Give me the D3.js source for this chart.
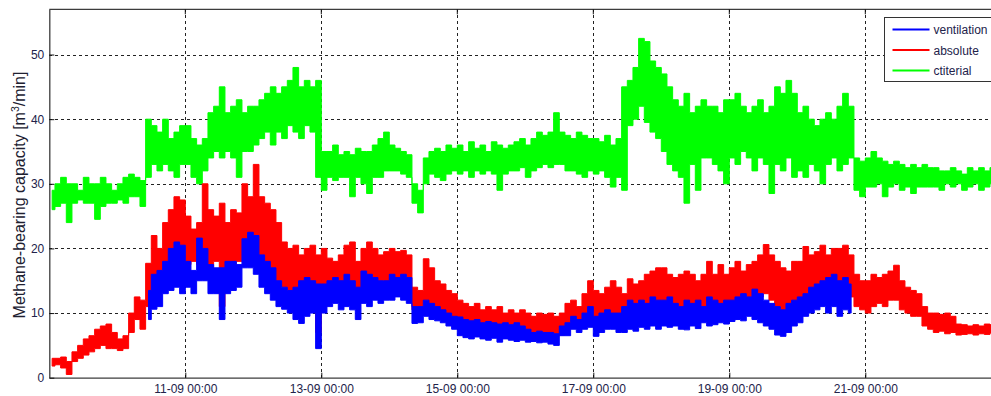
<!DOCTYPE html>
<html>
<head>
<meta charset="utf-8">
<script src="https://cdn.jsdelivr.net/npm/d3@7"></script>
<style>
  html, body { margin: 0; padding: 0; background: #fff; }
  svg { display: block; font-family: "Liberation Sans", Arial, sans-serif; }
</style>
</head>
<body>
<div id="chart"></div>
<script>
// 2-hour bins starting 09-09 00:00, each bin = upper and lower edge of the noisy trace
const binHours = 2;
const seriesNames = ["ventilation", "absolute", "ctiterial"];
const seriesColors = ["#0000ff", "#ff0000", "#00ff00"];
const xTickDays = ["2013-09-11", "2013-09-13", "2013-09-15", "2013-09-17", "2013-09-19", "2013-09-21"];
const yTicks = [0, 10, 20, 30, 40, 50];

// ctiterial
const greenHi = [
  29,30,31,30,30,29,31,30,30,31,30,29,
  30,31,31.5,31,30.5,40,39,38,40,37,38,39,
  39,37,36,37,41,42,45,41,42,43,41,42,
  42,43,44,45,44,45,46,48,45,46,45,46,
  35,35,36,34.5,35,34.5,35.5,35,35,36,37,38,
  36,35.5,35,34.5,30,29,34,35,35.5,35,36,35.5,
  36,35,36.5,35.5,36,35,36.5,36,35.5,36,36.5,37,
  36,37,38,37.5,38,41,38,37.5,37,38,37.5,37,
  37,36.5,37.5,36,37,45,46,48,52.5,52,49,48,
  47,45,43,42,44,41,42,43,42,42,41,43,
  43,44,42,41,42,43,41,42,45,44,46,44,
  41,42,40,39,40,41,40,42,44,42,34,33.5,
  34,35,34,33.5,33,33.5,33,32.5,33,32.5,33,32.5,
  32.5,32,32,32.5,32,31.5,32.5,32,32.5,32,32.5
];
const greenLo = [
  26,26.5,27,24,27,27.5,27,27,24.5,26.5,27,27,
  27.5,27,28,28,26.5,31,33,32,33,32,31,33,
  33,31,30,32,34,35,34,35,34,31,35,35,
  36,37,38,36,38,37,39,38,37,39,38,31,
  29,31,30.5,31,31,28,31,30,28.5,31,31,32,
  32,32,31.5,31,27,25.5,30,31.5,31,30.5,31.5,32,
  31.5,32,31,32,31.5,32,31.5,29,31.5,32,32,32.5,
  31,32,32.5,33,32.5,33,33,32,32,31.5,31,32,
  31.5,32,31,29.5,31,29,39,40,42,39.5,38,37,
  35,33,32,31,27,33,29,34,34,33,32,30,
  34,33,35,34,32,34,33,28.5,33,32,34,31,
  32,31,33,32,30,33,34,32,33,34,29,28,
  29.5,29.5,30,28,29.5,30,29,29.5,28.5,29.5,29.5,29.5,
  29.5,29,30,29.5,30,29,29.5,30,29,29.5,30
];

// absolute
const redHi = [
  3,3,3.2,2.5,4,5,6,6.5,7.5,8,8.3,7,
  6,6.5,10,12.5,12,17.7,22,20,24,26,28,27.5,
  25,23,24,30,26,25,27,24,26,25.5,30,28,
  33,28,27,26,24,21,20,20.5,19,20,20.5,19,
  20,18.5,18,19,20.5,21,18,20,21,20,19,19.5,
  20,19.5,19.7,19,14,13.5,18.4,17,15,14.5,13.5,13,
  12,11.5,11,11.5,10.5,11,10.5,11,10,10.5,10,10.5,
  10,9.5,10,9.8,10,9.5,10,11.5,12,11,13,15,
  13.5,13,14,15,14,13,15.3,14.5,15,16,16.5,17,
  17,16,15.5,16,16.5,16,15,16,18,16,17.5,16,
  17,18,16.5,17.5,18,19,20.6,19,18,17,16.5,18,
  18,20.3,19,19.5,20.5,19,20,20,20.5,19,16,15,
  15,16,15.5,16,16.5,17.4,15,14,13.5,13,11,10,
  10,9.8,10,9.5,8.3,8.2,8,8.2,8,8.3,8.2
];
const redLo = [
  1.8,2,1.5,0.5,2.5,3,3.5,4,4.5,5,4.5,4.5,
  4.2,4.5,7,9,7.5,11,13.5,14,17,18.5,19,18.5,
  17.5,18,17.5,19,17,18,11,17,17,18,19,20,
  19,18,17,16,15,14,13.5,12,11,12,12.5,7,
  13,13.5,14,13,14,13,12.5,14,13.5,14.5,15,14.5,
  15,14.5,15,14,10.5,10.5,12,11.5,10.5,10,9.5,9.5,
  8.5,8.7,8.5,8,8.2,7.8,7.6,8,7.5,7.6,7.4,7.5,
  6.8,7,6.6,7,6.8,6.5,6.6,7.5,8,7.6,8.5,9,
  8.3,9.5,9.5,10,9.3,9.5,10,10.5,10.5,10.5,11,11,
  11,10.5,11,10,8,10.5,9.5,11,11,10.5,11,11.5,
  11,12,11.5,12,12,12.5,13,12,11,9.5,10.5,11.5,
  12,12.5,13,13.5,14,13,13.5,14,13,12.5,11,10.5,
  10,11,11.5,11,12,12,10.5,10,9.5,9.5,8,7.5,
  7,7.2,6.8,7,6.6,6.7,6.8,6.6,6.8,6.7,6.9
];

// ventilation, starts at bin 17 (10-09 10:00)
const blueStartBin = 17;
const blueHi = [
  13.5,16,16.6,18,20,21,20.5,
  18,16.6,21.6,20,17.5,17,17,18,18,17.5,21.5,22.5,
  22,19,18,17,15,14,13.5,14,15,15.5,15,14.5,
  14.5,15,15.5,15,16,15,14,16.5,16,15.5,15,15,
  16,15.5,16,15.5,11,11,12,11.5,11,10.5,10,9.5,
  9.4,9,8.8,9,8.5,8.7,8.5,8.3,8.5,8.2,8.5,8,
  7.5,7,7.2,7,7,6.8,8,8.5,9.5,9,10,11,
  9.5,10,10.5,10,10,11,12,11.5,12,11.5,12.5,12,
  12,12.5,11.5,11,12,11.5,12,11,12.5,12,11.5,12,
  12,12.5,13,12.5,13.7,13,12,11.5,11,10.5,11.5,12,
  12.5,13,14,14.5,15,15.5,16,15,15.5,14.5
];
const blueLo = [
  9,10.6,11,13,13.5,14,13,
  14,13,15,15,13,13,9,13,13.5,14,17,17,
  16,14,13,12,11,10.6,10,9,8.4,9.5,10,4.5,
  10,11,11.5,10.5,11,10.5,9,11.5,11,12,11.5,12,
  12,12.5,12,11.5,8.4,8.5,9.5,9,8.8,8.5,8,7.5,
  6.5,6.2,6,6.3,6,5.8,6.1,5.5,6,5.8,5.6,5.8,
  5.5,5.6,5.4,5.5,5.2,5,6.5,6.5,7.5,7,7.5,7.8,
  6.4,7,7.5,7.5,7,7,7.5,7.2,7.8,7.5,8,7.5,
  8,7.8,8,7.5,7.4,8,7.6,8.5,8,8.2,8.5,8.3,
  8.7,9,8.8,9.5,9,8.5,8,7.5,6.6,6.4,7,8,
  8.5,9.5,10,10.5,11,10,11,9.5,10.5,10
];

const W = 991, H = 396;
const plotLeft = 49.3, plotTop = 9.3, plotBottom = 377.7;
const t0 = new Date(Date.UTC(2013, 8, 9));
const t1 = new Date(Date.UTC(2013, 8, 23));

const svg = d3.select("#chart").append("svg")
  .attr("width", W)
  .attr("height", H);

svg.append("rect").attr("width", W).attr("height", H).attr("fill", "#fff");

const x = d3.scaleUtc().domain([t0, t1]).range([plotLeft, plotLeft + 14 * 68]);
const y = d3.scaleLinear().domain([0, 57]).range([plotBottom, plotTop]);
const plotRight = x(t1);

svg.append("clipPath").attr("id", "plotclip")
  .append("rect")
  .attr("x", plotLeft).attr("y", plotTop)
  .attr("width", plotRight - plotLeft).attr("height", plotBottom - plotTop);

const xTicks = xTickDays.map(d => new Date(d + "T00:00:00Z"));
const fmt = d3.utcFormat("%d-%m %H:%M");

// grid
const grid = svg.append("g").attr("stroke", "#222").attr("stroke-width", 1)
  .attr("stroke-dasharray", "3,3").attr("shape-rendering", "crispEdges");
grid.selectAll("line.v").data(xTicks).enter().append("line")
  .attr("x1", d => Math.round(x(d)) + 0.5).attr("x2", d => Math.round(x(d)) + 0.5)
  .attr("y1", plotTop).attr("y2", plotBottom);
grid.selectAll("line.h").data(yTicks.filter(v => v > 0)).enter().append("line")
  .attr("x1", plotLeft).attr("x2", plotRight)
  .attr("y1", d => Math.round(y(d)) + 0.5).attr("y2", d => Math.round(y(d)) + 0.5);

// traces: dense noisy signal drawn as the min/max envelope of each bin
function bins(hi, lo, startBin) {
  return hi.map((h, i) => ({
    t: t0.getTime() + ((startBin + i) * binHours + binHours / 2) * 3600e3,
    hi: h,
    lo: lo[i]
  }));
}
const band = d3.area().curve(d3.curveStep)
  .x(d => x(d.t)).y0(d => y(d.lo)).y1(d => y(d.hi));

const plot = svg.append("g").attr("clip-path", "url(#plotclip)");
const traces = [
  { data: bins(greenHi, greenLo, 0), color: seriesColors[2] },
  { data: bins(redHi, redLo, 0), color: seriesColors[1] },
  { data: bins(blueHi, blueLo, blueStartBin), color: seriesColors[0] }
];
plot.selectAll("path").data(traces).enter().append("path")
  .attr("d", d => band(d.data))
  .attr("fill", d => d.color)
  .attr("stroke", d => d.color)
  .attr("stroke-width", 1)
  .attr("stroke-linejoin", "miter");

// axes box (MATLAB style, inward ticks)
const axisColor = "#3c3c3c";
const textColor = "#22224a";
const xAxis = svg.append("g").attr("transform", `translate(0,${plotBottom})`)
  .call(d3.axisBottom(x).tickValues(xTicks).tickFormat(fmt).tickSizeInner(-5).tickSizeOuter(0).tickPadding(7));
const yAxis = svg.append("g").attr("transform", `translate(${plotLeft},0)`)
  .call(d3.axisLeft(y).tickValues(yTicks).tickSizeInner(-5).tickSizeOuter(0).tickPadding(5));
[xAxis, yAxis].forEach(a => {
  a.select(".domain").attr("stroke", axisColor).attr("stroke-width", 1.3);
  a.selectAll(".tick line").attr("stroke", "#111");
  a.selectAll("text").attr("fill", textColor).attr("font-size", 12)
    .attr("font-family", "'Liberation Sans', Arial, sans-serif");
});
svg.append("line").attr("x1", plotLeft).attr("x2", plotRight).attr("y1", plotTop).attr("y2", plotTop)
  .attr("stroke", axisColor).attr("stroke-width", 1.3);
svg.append("g").selectAll("line").data(xTicks).enter().append("line")
  .attr("x1", d => x(d)).attr("x2", d => x(d)).attr("y1", plotTop).attr("y2", plotTop + 5)
  .attr("stroke", "#111");

// y label
const ylab = svg.append("text")
  .attr("transform", "translate(25,195) rotate(-90)")
  .attr("text-anchor", "middle")
  .attr("font-size", 16)
  .attr("fill", "#202030");
ylab.append("tspan").text("Methane-bearing capacity [m");
ylab.append("tspan").attr("font-size", 10.5).attr("dy", -6).text("3");
ylab.append("tspan").attr("dy", 6).text("/min]");

// legend
const lg = svg.append("g").attr("transform", "translate(884.5,17.5)");
lg.append("rect").attr("width", 130).attr("height", 64)
  .attr("fill", "#fff").attr("stroke", "#333").attr("stroke-width", 1);
seriesNames.forEach((name, i) => {
  const yy = 12 + i * 20.5;
  lg.append("line").attr("x1", 8).attr("x2", 45).attr("y1", yy).attr("y2", yy)
    .attr("stroke", seriesColors[i]).attr("stroke-width", 2);
  lg.append("text").attr("x", 49).attr("y", yy + 4.5).attr("font-size", 12)
    .attr("fill", textColor).text(name);
});
</script>
</body>
</html>
